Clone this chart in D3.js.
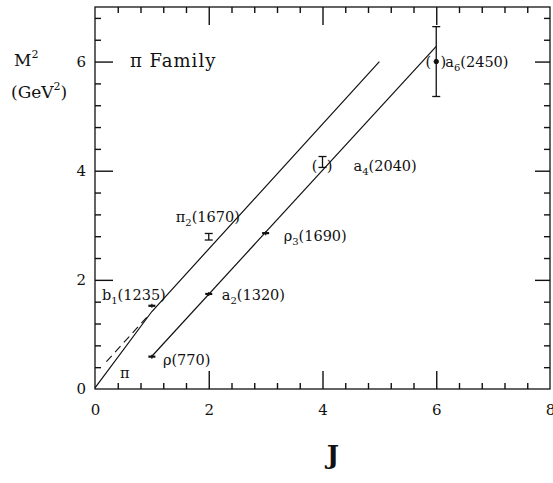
<!DOCTYPE html>
<html>
<head>
<meta charset="utf-8">
<script src="https://cdn.jsdelivr.net/npm/d3@7"></script>
<style>
  html, body { margin: 0; padding: 0; background: #fff; }
  svg { display: block; color: #111; }
  text { font-family: "DejaVu Serif", "Liberation Serif", serif; fill: #111; }
</style>
</head>
<body>
<svg id="chart" width="553" height="483"></svg>
<script>
// Meson states of the pi family: name parts, spin J and squared mass (GeV^2)
const stateBase = ["π", "b", "π", "ρ", "a", "ρ", "a", "a"];
const stateSub  = ["", "1", "2", "", "2", "3", "4", "6"];
const stateMass = ["", "(1235)", "(1670)", "(770)", "(1320)", "(1690)", "(2040)", "(2450)"];
const spinJ   = [0, 1, 2, 1, 2, 3, 4, 6];
const massSq  = [0.02, 1.525, 2.79, 0.593, 1.742, 2.856, 4.16, 6.0];
const massErr = [0, 0.02, 0.06, 0.01, 0.01, 0.02, 0.1, 0.64];
const tentative = [false, false, false, false, false, false, true, true];

// Trajectory lines (J, M^2)
const upperJ  = [0, 1, 5];
const upperM2 = [0.02, 1.42, 6.0];
const dashJ   = [0.2, 0.95];
const dashM2  = [0.5, 1.36];
const lowerJ  = [1, 6];
const lowerM2 = [0.6, 6.28];

// Axis ticks
const xMajor = [0, 2, 4, 6, 8];
const yMajor = [0, 2, 4, 6];

const svg = d3.select("#chart");
const padL = 95, padR = 550, padT = 7, padB = 389;
const x = d3.scaleLinear().domain([0, 8]).range([padL, padR]);
const y = d3.scaleLinear().domain([0, 7]).range([padB, padT]);

const minorX = d3.range(0, 8.0001, 0.4).filter(v => !xMajor.some(m => Math.abs(m - v) < 1e-6));
const minorY = d3.range(0, 7.0001, 0.4).filter(v => !yMajor.some(m => Math.abs(m - v) < 1e-6));
const innerX = xMajor.filter(v => v > 0 && v < 8);
const innerY = yMajor.filter(v => v > 0);

const MAJ = 18, MIN = 6;

// Tick labels on bottom and left
const gB = svg.append("g").attr("transform", `translate(0,${padB})`)
  .call(d3.axisBottom(x).tickValues(xMajor).tickSize(0).tickPadding(15).tickFormat(d3.format("d")));
gB.select(".domain").remove();
gB.selectAll("text").attr("font-size", 15).attr("font-family", "DejaVu Serif").attr("fill", "#111");

const gL = svg.append("g").attr("transform", `translate(${padL},0)`)
  .call(d3.axisLeft(y).tickValues(yMajor).tickSize(0).tickPadding(9).tickFormat(d3.format("d")));
gL.select(".domain").remove();
gL.selectAll("text").attr("font-size", 15).attr("font-family", "DejaVu Serif").attr("fill", "#111");

// Inward tick marks on all four sides, drawn with d3 axes
function tickAxis(axis, vals, len, tx, ty) {
  const g = svg.append("g").attr("transform", `translate(${tx},${ty})`)
    .call(axis.tickValues(vals).tickSize(-len).tickFormat(""));
  g.select(".domain").remove();
  g.selectAll(".tick line").attr("stroke", "#111").attr("stroke-width", 1.4);
}
tickAxis(d3.axisBottom(x), minorX, MIN, 0, padB);
tickAxis(d3.axisBottom(x), innerX, MAJ, 0, padB);
tickAxis(d3.axisTop(x), minorX, MIN, 0, padT);
tickAxis(d3.axisTop(x), innerX, MAJ, 0, padT);
tickAxis(d3.axisLeft(y), minorY, MIN, padL, 0);
tickAxis(d3.axisLeft(y), innerY, MAJ, padL, 0);
tickAxis(d3.axisRight(y), minorY, MIN, padR, 0);
tickAxis(d3.axisRight(y), innerY, MAJ - 3, padR, 0);

// Frame
svg.append("rect").attr("x", padL).attr("y", padT).attr("width", padR - padL).attr("height", padB - padT)
  .attr("fill", "none").attr("stroke", "#111").attr("stroke-width", 1.3);

// Trajectories
const path = d3.line().x(d => x(d[0])).y(d => y(d[1]));
svg.append("path").datum(d3.zip(upperJ, upperM2)).attr("d", path)
  .attr("fill", "none").attr("stroke", "#111").attr("stroke-width", 1.2);
svg.append("path").datum(d3.zip(dashJ, dashM2)).attr("d", path)
  .attr("fill", "none").attr("stroke", "#111").attr("stroke-width", 1.1).attr("stroke-dasharray", "8,5");
svg.append("path").datum(d3.zip(lowerJ, lowerM2)).attr("d", path)
  .attr("fill", "none").attr("stroke", "#111").attr("stroke-width", 1.2);

// Data points: small marker with vertical error bar
const pts = svg.append("g").attr("stroke", "#111");
spinJ.forEach((j, i) => {
  if (i === 0) return;
  const cx = x(j), cy = y(massSq[i]);
  const e = massErr[i];
  if (e >= 0.05) {
    pts.append("line").attr("x1", cx).attr("x2", cx).attr("y1", y(massSq[i] - e)).attr("y2", y(massSq[i] + e)).attr("stroke-width", 1.3);
    [massSq[i] - e, massSq[i] + e].forEach(v =>
      pts.append("line").attr("x1", cx - 4).attr("x2", cx + 4).attr("y1", y(v)).attr("y2", y(v)).attr("stroke-width", 1.3));
    if (i === 7) pts.append("circle").attr("cx", cx).attr("cy", cy).attr("r", 2.2).attr("fill", "#111");
  } else {
    pts.append("line").attr("x1", cx - 3.5).attr("x2", cx + 3.5).attr("y1", cy).attr("y2", cy).attr("stroke-width", 2.2);
    pts.append("line").attr("x1", cx).attr("x2", cx).attr("y1", cy - 2).attr("y2", cy + 2).attr("stroke-width", 1.2);
  }
});

// State labels (pixel offsets from the point)
const labelDx = [25, -50, -33, 11, 13, 18, 31, 9];
const labelDy = [-10, -6, -15, 8, 6, 8, 9, 5];
const lab = svg.append("g").attr("font-size", 14.5);
spinJ.forEach((j, i) => {
  const t = lab.append("text").attr("x", x(j) + labelDx[i]).attr("y", y(massSq[i]) + labelDy[i]);
  t.append("tspan").text(stateBase[i]);
  if (stateSub[i]) t.append("tspan").attr("font-size", 10).attr("dy", 4).text(stateSub[i]);
  if (stateMass[i]) t.append("tspan").attr("dy", stateSub[i] ? -4 : 0).text(stateMass[i]);
  if (tentative[i]) {
    lab.append("text").attr("x", x(j) - 8).attr("y", y(massSq[i]) + labelDy[i]).attr("text-anchor", "middle").text("(");
    lab.append("text").attr("x", x(j) + 7).attr("y", y(massSq[i]) + labelDy[i]).attr("text-anchor", "middle").text(")");
  }
});

// Title and axis labels
svg.append("text").attr("x", 130).attr("y", 67).attr("font-size", 18).attr("letter-spacing", 1).text("π Family");
const m2 = svg.append("text").attr("x", 14).attr("y", 66).attr("font-size", 17);
m2.append("tspan").text("M");
m2.append("tspan").attr("font-size", 11).attr("dy", -8).text("2");
const gev = svg.append("text").attr("x", 11).attr("y", 98).attr("font-size", 17);
gev.append("tspan").text("(GeV");
gev.append("tspan").attr("font-size", 11).attr("dy", -8).text("2");
gev.append("tspan").attr("dy", 8).text(")");
svg.append("text").attr("x", 333).attr("y", 464).attr("text-anchor", "middle")
  .attr("font-size", 26).attr("font-weight", "bold").attr("font-family", "Liberation Serif").text("J");
</script>
</body>
</html>
